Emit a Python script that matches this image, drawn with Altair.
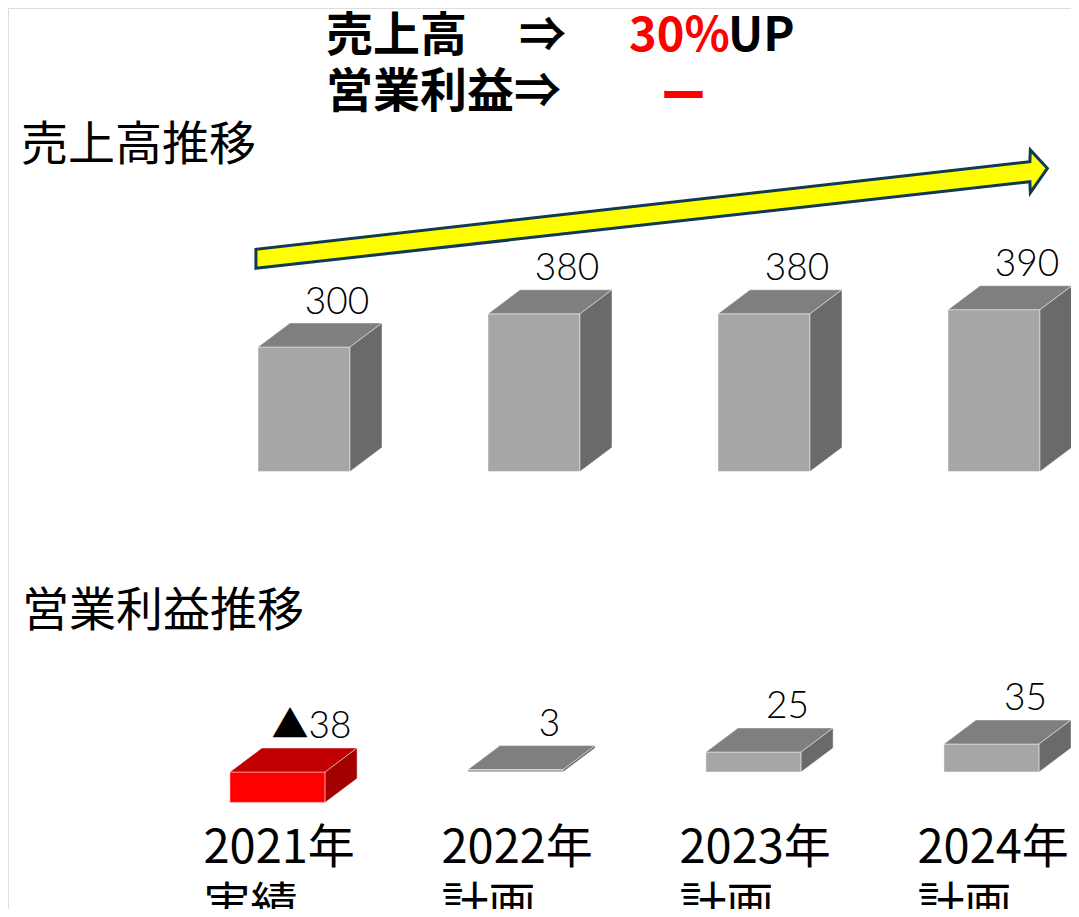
import altair as alt
import pandas as pd

# ---------------- data ----------------
years = ["2021年", "2022年", "2023年", "2024年"]
kinds = ["実績", "計画", "計画", "計画"]
sales = [300, 380, 380, 390]
profit = [-38, 3, 25, 35]

headline_text = ["売上高", "⇒", "30%", "UP", "営業利益⇒", "ー"]
headline_color = ["#000000", "#000000", "#ff0000", "#000000", "#000000", "#ff0000"]
section_titles = ["売上高推移", "営業利益推移"]

# ---------------- layout / style ----------------
W, H = 1063, 901
FONT = "Noto Sans CJK JP"
NUMFONT = "Lato"
GREY = ("#a6a6a6", "#7f7f7f", "#6a6a6a")
RED = ("#ff0000", "#c00000", "#a30000")


def xscale(px0, ppu):
    return alt.Scale(domain=[-px0 / ppu, (W - px0) / ppu], nice=False, zero=False)


def yscale(base, ppu):
    return alt.Scale(domain=[(base - H) / ppu, base / ppu], nice=False, zero=False)


def panel(values, labels, xs, ys, hw, dxu, dyu, label_dx, label_dy, extra=None):
    front, faces, labs = [], [], []
    for i, v in enumerate(values):
        top, bot = max(v, 0), min(v, 0)
        fc, tc, sc = RED if v < 0 else GREY
        front.append(dict(bar=i, x=i - hw, x2=i + hw, lo=bot, hi=top, c=fc))
        pts = [(i - hw, top, top), (i - hw + dxu, top, top + dyu),
               (i + hw, top, top + dyu), (i + hw + dxu, top + dyu, top + dyu)]
        for k, (x, lo, hi) in enumerate(pts):
            faces.append(dict(face=f"t{i}", x=x, lo=lo, hi=hi, c=tc))
        for k, (x, lo, hi) in enumerate([(i + hw, bot, top), (i + hw + dxu, bot + dyu, top + dyu)]):
            faces.append(dict(face=f"s{i}", x=x, lo=lo, hi=hi, c=sc))
        labs.append(dict(x=i + dxu + label_dx, y=top + dyu, t=labels[i]))

    X = lambda f: alt.X(f, scale=xs, axis=None)
    Y = lambda f: alt.Y(f, scale=ys, axis=None, stack=None)
    edge = dict(stroke="white", strokeOpacity=0.45, strokeWidth=1)

    fr = alt.Chart(pd.DataFrame(front)).mark_rect(**edge).encode(
        x=X("x:Q"), x2="x2:Q", y=Y("lo:Q"), y2="hi:Q",
        color=alt.Color("c:N", scale=None))
    fc_layers = []
    fdf = pd.DataFrame(faces)
    for name in fdf["face"].unique():
        sub = fdf[fdf["face"] == name]
        fc_layers.append(alt.Chart(sub).mark_area(
            orient="vertical", color=sub["c"].iloc[0], **edge).encode(
            x=X("x:Q"), y=Y("lo:Q"), y2="hi:Q"))
    lb = alt.Chart(pd.DataFrame(labs)).mark_text(
        font=NUMFONT + ", " + FONT, fontSize=37, fontWeight=300, align="center",
        baseline="alphabetic", dy=label_dy, color="black").encode(
        x=X("x:Q"), y=Y("y:Q"), text="t:N")
    layers = [fr] + fc_layers + [lb]
    if extra is not None:
        layers += extra(X, Y)
    return alt.layer(*layers)


# top panel (sales): front centre x = 296 + 230*i (plot px), baseline 463.5, 0.415 px/unit
xs_top = xscale(296, 230)
ys_top = yscale(463.5, 0.415)


def arrow(X, Y):
    pts = pd.DataFrame(dict(
        x=[-0.209, 3.156, 3.158, 3.232],
        lo=[489.6, 698.3, 671.8, 730.6],
        hi=[535.4, 746.5, 774.7, 730.6],
    ))
    return [alt.Chart(pts).mark_area(
        orient="vertical", color="#ffff00", stroke="#0f3a52", strokeWidth=3,
        strokeJoin="miter").encode(x=X("x:Q"), y=Y("lo:Q"), y2="hi:Q")]


top_panel = panel(sales, [str(v) for v in sales], xs_top, ys_top,
                  hw=0.2, dxu=32 / 230, dyu=24 / 0.415, label_dx=1 / 230,
                  label_dy=-9.5, extra=arrow)

# bottom panel (operating profit)
xs_bot = xscale(269.5, 238)
ys_bot = yscale(764, 0.8)
profit_labels = [("▲" + str(abs(v))) if v < 0 else str(v) for v in profit]


def xlabels(X, Y):
    df = pd.DataFrame(dict(x=[i - 74 / 238 for i in range(len(years))],
                           t=[f"{y}\n{k}" for y, k in zip(years, kinds)]))
    return [alt.Chart(df).mark_text(
        font=FONT, fontSize=47, align="left", baseline="alphabetic",
        lineBreak="\n", lineHeight=58, color="black").encode(
        x=X("x:Q"), y=alt.value(855), text="t:N")]


bottom_panel = panel(profit, profit_labels, xs_bot, ys_bot,
                     hw=0.2, dxu=32 / 238, dyu=24 / 0.8, label_dx=2 / 238,
                     label_dy=-10, extra=xlabels)

# headline + section titles (placed in plot pixels)
head_df = pd.DataFrame(dict(
    t=headline_text, c=headline_color,
    px=[318, 511, 621, 720, 318, 652],
    py=[43, 43, 43, 43, 99, 104],
))
headline = alt.Chart(head_df).mark_text(
    font=FONT, fontSize=47, fontWeight="bold", align="left", baseline="alphabetic"
).encode(x=alt.X("px:Q", scale=None), y=alt.Y("py:Q", scale=None),
         text="t:N", color=alt.Color("c:N", scale=None))

title_df = pd.DataFrame(dict(t=section_titles, px=[13, 14], py=[152, 618]))
titles = alt.Chart(title_df).mark_text(
    font=FONT, fontSize=47, align="left", baseline="alphabetic", color="black"
).encode(x=alt.X("px:Q", scale=None), y=alt.Y("py:Q", scale=None), text="t:N")

chart = alt.layer(top_panel, bottom_panel, headline, titles).resolve_scale(
    x="independent", y="independent"
).properties(
    width=W, height=H, padding=0, autosize=alt.AutoSizeParams(type="none")
).configure_view(stroke=None).configure(background="white")

chart.save("out.html", embed_options={"renderer": "svg", "actions": False})
